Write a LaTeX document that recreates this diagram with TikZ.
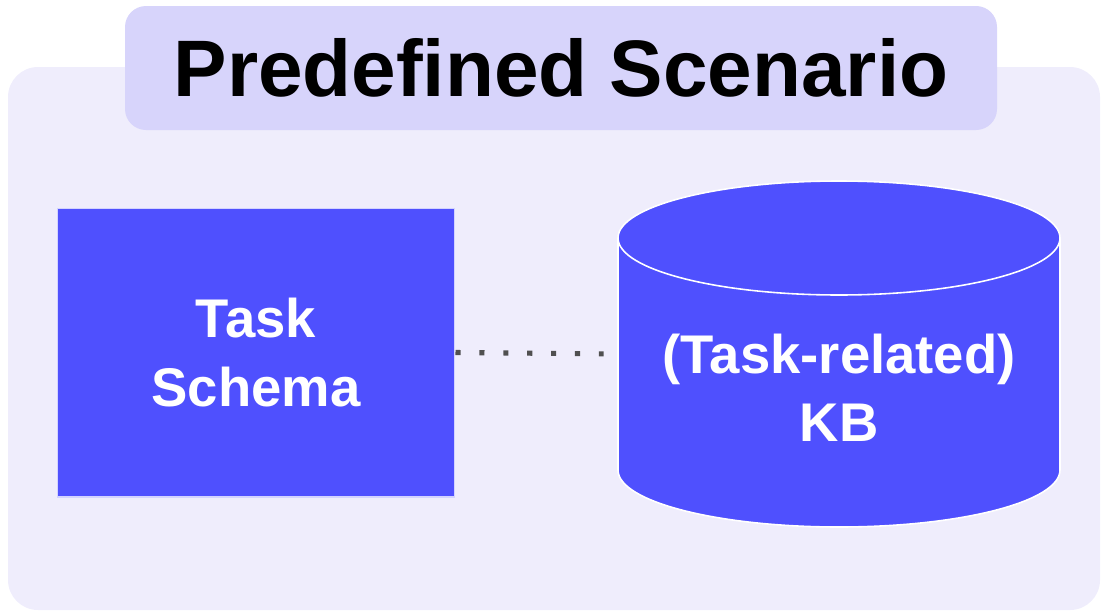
\documentclass[tikz,border=0pt]{standalone}
\usepackage{fontspec}
\setmainfont{Liberation Sans}
\definecolor{panelbg}{HTML}{EFEDFC}
\definecolor{titlebg}{HTML}{D7D4FB}
\definecolor{boxblue}{HTML}{4F50FE}
\definecolor{dotgray}{HTML}{505050}
\tikzset{
  panel/.style={fill=panelbg, rounded corners=0.6cm},
  titlepanel/.style={fill=titlebg, rounded corners=0.42cm},
  titletext/.style={font=\fontsize{45.6}{54}\selectfont\bfseries, text=black, inner sep=0pt},
  schemabox/.style={fill=boxblue, draw=white!75!boxblue, line width=0.6pt,
    minimum width=7.96cm, minimum height=5.78cm, inner sep=0pt,
    align=center, text=white, font=\fontsize{31}{39.6}\selectfont\bfseries},
  kbtext/.style={text=white, align=center, inner sep=0pt,
    font=\fontsize{31}{38.5}\selectfont\bfseries},
  cylfill/.style={fill=boxblue},
  cyledge/.style={draw=white, line width=0.9pt},
  dotlink/.style={draw=dotgray, line width=2.9pt, line cap=butt,
    dash pattern=on 2.9pt off 10.7pt}
}
\begin{document}
\begin{tikzpicture}[x=0.02cm, y=-0.02cm]
\useasboundingbox (0,0) rectangle (1104,612);

% background panel and title tab
\fill[panel] (8,67) rectangle (1100,610);
\fill[titlepanel] (125,6) rectangle (997,130);
\node[titletext] (title) at (561,68) {Predefined Scenario};

% task schema block
\node[schemabox] (schema) at (256,352.5) {Task\\Schema};

% knowledge base cylinder
\node[minimum width=8.84cm, minimum height=4.64cm, inner sep=0pt] (kbbody) at (839,354) {};
\fill[cylfill] (839,470) ellipse (221 and 57);
\fill[cylfill] (618,238) rectangle (1060,470);
\draw[cyledge] (618,238) -- (618,470) (1060,238) -- (1060,470);
\begin{scope}
  \clip (600,470) rectangle (1080,540);
  \draw[cyledge] (839,470) ellipse (221 and 57);
\end{scope}
\filldraw[cylfill, cyledge] (839,238) ellipse (221 and 57);
\node[kbtext] (kb) at (839,388) {(Task-related)\\KB};

% dotted link between the two blocks
\draw[dotlink, shorten >=0.28cm] (schema.east) -- (kbbody.west);
\end{tikzpicture}
\end{document}
